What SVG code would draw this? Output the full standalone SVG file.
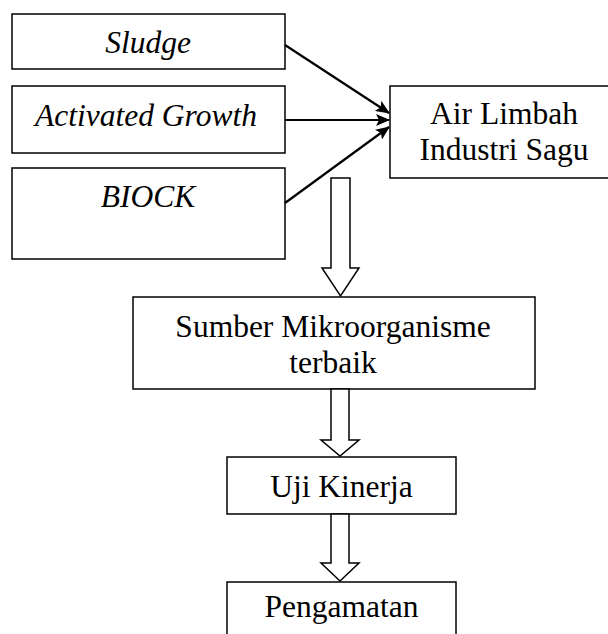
<svg xmlns="http://www.w3.org/2000/svg" width="608" height="634" viewBox="0 0 608 634">
<defs>
<style>
.box{fill:#fff;stroke:#000;stroke-width:1.5}
.t{font-family:"Liberation Serif","Times New Roman",serif;font-size:31.5px;fill:#000;text-anchor:middle}
.i{font-style:italic}
.ln{stroke:#000;stroke-width:2.2;fill:none}
.hol{fill:#fff;stroke:#000;stroke-width:1.5;stroke-linejoin:miter}
</style>
<marker id="ah" markerWidth="14" markerHeight="12" refX="13" refY="6" orient="auto" markerUnits="userSpaceOnUse">
<path d="M0,0 L14,6 L0,12 L3,6 Z" fill="#000"/>
</marker>
</defs>
<rect width="608" height="634" fill="#fff"/>
<g id="sludge">
<rect class="box" x="12" y="14" width="273" height="55"/>
<text class="t i" x="148" y="53">Sludge</text>
</g>
<g id="activated">
<rect class="box" x="12" y="86" width="273" height="67"/>
<text class="t i" x="146" y="126">Activated Growth</text>
</g>
<g id="biock">
<rect class="box" x="12" y="168" width="273" height="91"/>
<text class="t i" x="148" y="207">BIOCK</text>
</g>
<g id="airlimbah">
<rect class="box" x="390" y="86" width="230" height="92"/>
<text class="t" x="504" y="124">Air Limbah</text>
<text class="t" x="504" y="160">Industri Sagu</text>
</g>
<g id="sumber">
<rect class="box" x="133" y="297" width="402" height="92"/>
<text class="t" x="333" y="337">Sumber Mikroorganisme</text>
<text class="t" x="333" y="373">terbaik</text>
</g>
<g id="uji">
<rect class="box" x="227" y="457" width="229" height="57"/>
<text class="t" x="341.5" y="497">Uji Kinerja</text>
</g>
<g id="pengamatan">
<rect class="box" x="227" y="582" width="229" height="70"/>
<text class="t" x="341.5" y="617">Pengamatan</text>
</g>
<g id="connectors">
<line class="ln" x1="285" y1="45" x2="389" y2="113" marker-end="url(#ah)"/>
<line class="ln" x1="285" y1="120" x2="389" y2="120" marker-end="url(#ah)"/>
<line class="ln" x1="285" y1="203" x2="389" y2="127" marker-end="url(#ah)"/>
<path class="hol" d="M331,178 L350,178 L350,268 L359,268 L340.5,296 L322,268 L331,268 Z"/>
<path class="hol" d="M331,389 L349,389 L349,440 L359,440 L340,456 L321,440 L331,440 Z"/>
<path class="hol" d="M331,514 L349,514 L349,563 L359,563 L340,581 L321,563 L331,563 Z"/>
</g>
</svg>
